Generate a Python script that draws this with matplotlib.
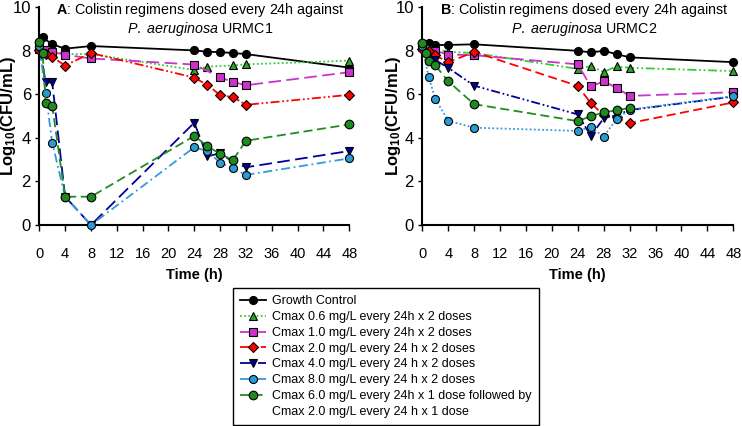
import numpy as np
import matplotlib
matplotlib.use("Agg")
from matplotlib import pyplot as plt
from matplotlib.lines import Line2D

plt.rcParams["font.family"] = ["Liberation Sans", "DejaVu Sans"]
plt.rcParams["mathtext.fontset"] = "custom"
plt.rcParams["mathtext.rm"] = "Liberation Sans"
plt.rcParams["mathtext.it"] = "Liberation Sans:italic"
plt.rcParams["mathtext.bf"] = "Liberation Sans:bold"

# sampling times (h); None = no point at that time
times = [0, 0.5, 1, 2, 4, 8, 24, 26, 28, 30, 32, 48]

# panel A: URMC1
a_gc   = [8.40, 8.62, None, 8.30, 8.10, 8.22, 8.02, 7.96, 7.94, 7.90, 7.85, 7.23]
a_c06  = [8.15, None, None, None, 7.85, 7.85, 7.12, 7.27, None, 7.33, 7.38, 7.55]
a_c10  = [8.10, None, 8.05, 7.95, 7.82, 7.65, 7.37, None, 6.78, 6.57, 6.42, 7.02]
a_c20  = [8.03, None, 7.85, 7.72, 7.32, 7.90, 6.77, 6.43, 5.97, 5.87, 5.52, 5.98]
a_c40  = [8.15, None, 6.55, 6.55, 1.30, 0.00, 4.70, 3.15, 3.30, 2.90, 2.65, 3.40]
a_c80  = [8.20, None, 6.05, 3.78, 1.30, 0.00, 3.57, 3.40, 2.86, 2.60, 2.30, 3.06]
a_c62  = [8.42, 7.92, 5.62, 5.47, 1.30, 1.30, 4.09, 3.63, 3.26, 2.99, 3.87, 4.62]

# panel B: URMC2
b_gc   = [8.35, None, 8.35, 8.27, 8.27, 8.30, 8.00, 7.93, 8.00, 7.85, 7.70, 7.48]
b_c06  = [8.25, None, None, None, 7.95, 7.90, 7.17, 7.30, 7.03, 7.29, 7.22, 7.07]
b_c10  = [8.20, None, None, 8.00, 7.83, 7.80, 7.38, 6.37, 6.60, 6.30, 5.93, 6.10]
b_c20  = [8.10, None, 8.00, 7.80, 7.47, 7.95, 6.39, 5.60, 5.05, 4.95, 4.68, 5.63]
b_c40  = [8.20, None, None, 7.58, 7.22, 6.40, 5.08, 4.10, 4.90, 5.05, 5.28, 5.90]
b_c80  = [8.20, None, 6.78, 5.80, 4.78, 4.47, 4.32, 4.50, 4.06, 4.88, 5.30, 5.92]
b_c62  = [8.35, 7.88, 7.54, 7.34, 6.60, 5.55, 4.77, 5.00, 5.17, 5.27, 5.38, None]

labels = [
    "Growth Control",
    "Cmax 0.6 mg/L every 24h x 2 doses",
    "Cmax 1.0 mg/L every 24h x 2 doses",
    "Cmax 2.0 mg/L every 24 h x 2 doses",
    "Cmax 4.0 mg/L every 24 h x 2 doses",
    "Cmax 8.0 mg/L every 24 h x 2 doses",
    "Cmax 6.0 mg/L every 24h x 1 dose followed by",
]
label_extra = "Cmax 2.0 mg/L every 24 h x 1 dose"

line_colors = ["black", "#33cc33", "#cc33cc", "#ff0000", "#000099", "#3399dd", "#228b22"]
face_colors = ["black", "#2ea02e", "#cc33cc", "#ff0000", "#000099", "#2b9bd4", "#1f8a1f"]
markers = ["o", "^", "s", "D", "v", "o", "o"]
msizes = [5.8, 5.8, 5.3, 4.8, 5.8, 5.8, 6.2]

dotted = (0, (1, 1.3))
dashdotdot = (0, (5, 1.5, 1, 1.5, 1, 1.5))
dashdot = (0, (5, 2, 1, 2))
longdash = (0, (7, 3))
dash = (0, (5, 2.5))

styles_a = ["-", dotted, longdash, dashdotdot, longdash, dashdot, dash]
styles_b = ["-", dashdotdot, longdash, dash, dashdotdot, dotted, dash]


def draw(ax, series, styles, ylab_x):
    t = np.array(times, dtype=float)
    handles = []
    for i, vals in enumerate(series):
        v = np.array([np.nan if x is None else x for x in vals], dtype=float)
        m = ~np.isnan(v)
        h, = ax.plot(t[m], v[m], linestyle=styles[i], color=line_colors[i], lw=1.3,
                     marker=markers[i], ms=msizes[i], mfc=face_colors[i], mec="black",
                     mew=0.8, clip_on=False, zorder=3 + i)
        handles.append(h)
    ax.set_xlim(0, 48)
    ax.set_ylim(0, 10)
    ax.set_xticks(range(0, 49, 4))
    ax.set_yticks(range(0, 11, 2))
    ax.tick_params(axis="x", labelsize=10.5, direction="out", length=4, width=1, pad=12)
    ax.tick_params(axis="y", labelsize=12, direction="out", length=3, width=1, pad=3)
    for s in ["top", "right"]:
        ax.spines[s].set_visible(False)
    for s in ["left", "bottom"]:
        ax.spines[s].set_linewidth(1.5)
    ax.set_xlabel("Time (h)", fontsize=10.5, fontweight="bold", labelpad=5)
    ax.set_ylabel(r"Log$_{\mathbf{10}}$(CFU/mL)", fontsize=12, fontweight="bold")
    ax.yaxis.set_label_coords(ylab_x, 0.5)
    return handles


fig = plt.figure(figsize=(7.42, 4.26), dpi=100)
bottom = 1 - 225 / 426
height = 217.7 / 426
axA = fig.add_axes([39.3 / 742, bottom, 310 / 742, height])
axB = fig.add_axes([422.3 / 742, bottom, 311 / 742, height])

hA = draw(axA, [a_gc, a_c06, a_c10, a_c20, a_c40, a_c80, a_c62], styles_a, -0.068)
draw(axB, [b_gc, b_c06, b_c10, b_c20, b_c40, b_c80, b_c62], styles_b, -0.062)

axA.text(0.52, 1.03, r"$\mathbf{A}$: Colistin regimens dosed every 24h against" + "\n"
         + r"$\mathit{P.\ aeruginosa}$ URMC1",
         transform=axA.transAxes, ha="center", va="top", fontsize=10.3, linespacing=1.1)
axB.text(0.52, 1.03, r"$\mathbf{B}$: Colistin regimens dosed every 24h against" + "\n"
         + r"$\mathit{P.\ aeruginosa}$ URMC2",
         transform=axB.transAxes, ha="center", va="top", fontsize=10.3, linespacing=1.1)

blank = Line2D([], [], linestyle="none", marker="none")
leg = fig.legend(hA + [blank], labels + [label_extra], loc="upper left",
                 bbox_to_anchor=(233 / 742, 1 - 288 / 426), fontsize=9.0,
                 frameon=True, fancybox=False, edgecolor="black", framealpha=1,
                 handlelength=2.0, handletextpad=0.55, labelspacing=0.3,
                 borderpad=0.6, borderaxespad=0)
leg.get_frame().set_linewidth(1.0)

fig.savefig("out.png", dpi=100)
